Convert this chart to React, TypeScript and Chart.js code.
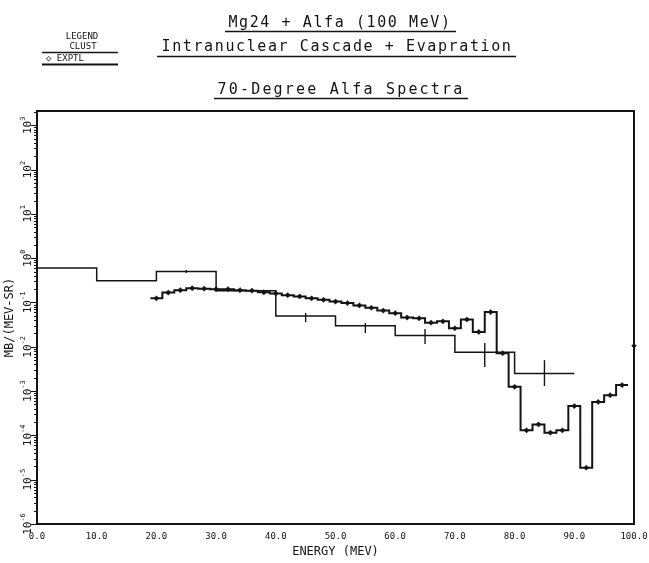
import React, { useEffect, useRef } from "react";
import { Chart, registerables } from "chart.js";

Chart.register(...registerables);

const FONT = "'DejaVu Sans Mono', 'Liberation Mono', monospace";
const INK = "#141414";

const TITLE_LINES = ["Mg24 + Alfa (100 MeV)", "Intranuclear Cascade + Evapration", "70-Degree Alfa Spectra"];
const LEGEND_TITLE = "LEGEND";
const SERIES_NAMES = ["CLUST", "EXPTL"];
const X_TITLE = "ENERGY (MEV)";
const Y_TITLE = "MB/(MEV-SR)";

const X_TICKS = [0, 10, 20, 30, 40, 50, 60, 70, 80, 90, 100];
const Y_EXPONENTS = [-6, -5, -4, -3, -2, -1, 0, 1, 2, 3];
const Y_EXP_LABELS = ["-6", "-5", "-4", "-3", "-2", "-1", "0", "1", "2", "3"];
const Y_MINOR_MULTS = [2, 3, 4, 5, 6, 7, 8, 9];
const X_MIN = 0;
const X_MAX = 100;
const Y_MIN = 1e-6;
const Y_MAX = 2100;

// CLUST: 10 MeV bins (left edges), values and error bars
const CLUST_EDGES = [0, 10, 20, 30, 40, 50, 60, 70, 80, 90];
const CLUST_VALUES = [0.6, 0.31, 0.5, 0.185, 0.0495, 0.03, 0.018, 0.0075, 0.0025];
const CLUST_ERR_X = [25, 45, 55, 65, 75, 85];
const CLUST_ERR_LOW = [0.46, 0.0363, 0.0205, 0.0116, 0.0035, 0.0013];
const CLUST_ERR_HIGH = [0.54, 0.058, 0.0344, 0.0252, 0.0122, 0.005];

// EXPTL: 2 MeV bins (centres) and values
const EXPTL_CENTERS = [20, 22, 24, 26, 28, 30, 32, 34, 36, 38, 40, 42, 44, 46, 48, 50, 52, 54, 56, 58, 60, 62, 64, 66, 68, 70, 72, 74, 76, 78, 80, 82, 84, 86, 88, 90, 92, 94, 96, 98];
const EXPTL_HALF_WIDTH = 1;
const EXPTL_VALUES = [
  0.124, 0.167, 0.19, 0.21, 0.205, 0.2, 0.2, 0.19, 0.185, 0.17,
  0.16, 0.146, 0.137, 0.124, 0.115, 0.105, 0.097, 0.086, 0.076, 0.0656,
  0.0575, 0.0457, 0.044, 0.035, 0.0375, 0.0262, 0.0413, 0.0216, 0.0609, 0.00715,
  0.00125, 0.00013, 0.000177, 0.000115, 0.00013, 0.00046, 0.0000186, 0.00057, 0.00081, 0.00137,
];

// single mark on the right frame
const EDGE_MARK_X = [100];
const EDGE_MARK_Y = [0.0105];

export default function App() {
  const ref = useRef<HTMLCanvasElement>(null);

  useEffect(() => {
    const canvas = ref.current;
    if (!canvas) return;

    const clustPoints = CLUST_EDGES.map((x, i) => ({ x, y: CLUST_VALUES[Math.min(i, CLUST_VALUES.length - 1)] }));
    const last = EXPTL_CENTERS.length - 1;
    const exptlPoints = EXPTL_CENTERS.map((c, i) => ({ x: c - EXPTL_HALF_WIDTH, y: EXPTL_VALUES[i] }));
    exptlPoints.push({ x: EXPTL_CENTERS[last] + EXPTL_HALF_WIDTH, y: EXPTL_VALUES[last] });
    const exptlMarkers = EXPTL_CENTERS.map((c, i) => ({ x: c, y: EXPTL_VALUES[i] }));
    const edgeMarks = EDGE_MARK_X.map((x, i) => ({ x, y: EDGE_MARK_Y[i] }));

    const decor = {
      id: "decor",
      beforeDraw(chart: any) {
        const ctx = chart.ctx;
        ctx.save();
        ctx.fillStyle = "#ffffff";
        ctx.fillRect(0, 0, chart.width, chart.height);
        ctx.restore();
      },
      afterDatasetsDraw(chart: any) {
        const ctx = chart.ctx;
        const xs = chart.scales.x;
        const ys = chart.scales.y;
        ctx.save();
        ctx.strokeStyle = INK;
        ctx.lineWidth = 1.4;
        CLUST_ERR_X.forEach((xv, i) => {
          const px = xs.getPixelForValue(xv);
          const y1 = ys.getPixelForValue(CLUST_ERR_LOW[i]);
          const y2 = ys.getPixelForValue(CLUST_ERR_HIGH[i]);
          ctx.beginPath();
          ctx.moveTo(px, y1);
          ctx.lineTo(px, y2);
          ctx.stroke();
        });
        ctx.restore();
      },
      afterDraw(chart: any) {
        const ctx = chart.ctx;
        const a = chart.chartArea;
        const ys = chart.scales.y;
        ctx.save();
        // frame
        ctx.strokeStyle = INK;
        ctx.lineWidth = 2;
        ctx.strokeRect(a.left, a.top, a.right - a.left, a.bottom - a.top);

        // y ticks (major and minor, outward)
        ctx.lineWidth = 1;
        ys.ticks.forEach((t: any) => {
          const py = Math.round(ys.getPixelForValue(t.value)) + 0.5;
          const len = t.major ? 6 : 3;
          ctx.beginPath();
          ctx.moveTo(a.left - len, py);
          ctx.lineTo(a.left, py);
          ctx.stroke();
        });

        // y tick labels, rotated
        ctx.fillStyle = INK;
        Y_EXPONENTS.forEach((e, i) => {
          const py = ys.getPixelForValue(Math.pow(10, e));
          ctx.save();
          ctx.translate(31, py);
          ctx.rotate(-Math.PI / 2);
          ctx.textBaseline = "alphabetic";
          ctx.textAlign = "left";
          ctx.font = `11px ${FONT}`;
          const w1 = ctx.measureText("10").width;
          ctx.font = `7px ${FONT}`;
          const w2 = ctx.measureText(Y_EXP_LABELS[i]).width;
          const start = -(w1 + w2) / 2;
          ctx.font = `11px ${FONT}`;
          ctx.fillText("10", start, 0);
          ctx.font = `7px ${FONT}`;
          ctx.fillText(Y_EXP_LABELS[i], start + w1, -6);
          ctx.restore();
        });

        // titles
        const titleSpec = [
          { cx: 340, base: 27, uy: 31.5, x0: 225, x1: 456, sp: 1.6 },
          { cx: 337, base: 51, uy: 56.5, x0: 157, x1: 516, sp: 1.6 },
          { cx: 341, base: 94, uy: 98.5, x0: 214, x1: 468, sp: 2.2 },
        ];
        ctx.textAlign = "center";
        ctx.textBaseline = "alphabetic";
        ctx.font = `15px ${FONT}`;
        TITLE_LINES.forEach((t, i) => {
          const s = titleSpec[i];
          (ctx as any).letterSpacing = `${s.sp}px`;
          ctx.fillText(t, s.cx, s.base);
          ctx.lineWidth = 1.3;
          ctx.beginPath();
          ctx.moveTo(s.x0, s.uy);
          ctx.lineTo(s.x1, s.uy);
          ctx.stroke();
        });
        (ctx as any).letterSpacing = "0px";

        // legend block
        ctx.font = `9px ${FONT}`;
        ctx.textAlign = "center";
        ctx.fillText(LEGEND_TITLE, 82, 39);
        ctx.fillText(SERIES_NAMES[0], 83, 49);
        ctx.lineWidth = 1.5;
        ctx.beginPath();
        ctx.moveTo(42, 52.5);
        ctx.lineTo(118, 52.5);
        ctx.stroke();
        ctx.textAlign = "left";
        ctx.fillText("\u25C7 " + SERIES_NAMES[1], 46, 61);
        ctx.lineWidth = 2;
        ctx.beginPath();
        ctx.moveTo(42, 64.5);
        ctx.lineTo(118, 64.5);
        ctx.stroke();
        ctx.restore();
      },
    };

    const chart = new Chart(canvas, {
      type: "line",
      data: {
        datasets: [
          {
            label: SERIES_NAMES[0],
            data: clustPoints,
            stepped: "before",
            borderColor: INK,
            borderWidth: 1.5,
            pointRadius: 0,
            fill: false,
          },
          {
            label: SERIES_NAMES[1],
            data: exptlPoints,
            stepped: "before",
            borderColor: INK,
            borderWidth: 2,
            pointRadius: 0,
            fill: false,
          },
          {
            label: SERIES_NAMES[1] + " points",
            data: exptlMarkers,
            showLine: false,
            pointStyle: "rectRot",
            pointRadius: 2.6,
            backgroundColor: INK,
            borderColor: INK,
            borderWidth: 0.5,
          },
          {
            label: "mark",
            data: edgeMarks,
            showLine: false,
            pointStyle: "rectRot",
            pointRadius: 2.2,
            backgroundColor: INK,
            borderColor: INK,
            clip: false,
          } as any,
        ],
      },
      options: {
        animation: false,
        responsive: true,
        maintainAspectRatio: false,
        layout: { padding: { left: 0, top: 111, right: 15, bottom: 0 } },
        plugins: {
          legend: { display: false },
          tooltip: { enabled: false },
          title: { display: false },
        },
        scales: {
          x: {
            type: "linear",
            min: X_MIN,
            max: X_MAX,
            afterBuildTicks: (s: any) => {
              s.ticks = X_TICKS.map((v) => ({ value: v }));
            },
            afterFit: (s: any) => {
              s.height = 39;
              s.paddingLeft = 0;
              s.paddingRight = 0;
            },
            ticks: {
              autoSkip: false,
              maxRotation: 0,
              minRotation: 0,
              padding: 7,
              color: INK,
              font: { family: FONT, size: 9 },
              callback: (v: any) => Number(v).toFixed(1),
            },
            grid: { display: false, drawTicks: false },
            border: { display: false },
            title: {
              display: true,
              text: X_TITLE,
              color: INK,
              font: { family: FONT, size: 12 },
              padding: { top: 0, bottom: 4 },
            },
          },
          y: {
            type: "logarithmic",
            min: Y_MIN,
            max: Y_MAX,
            afterBuildTicks: (s: any) => {
              const t: any[] = [];
              Y_EXPONENTS.forEach((e) => {
                const b = Math.pow(10, e);
                t.push({ value: b, major: true });
                Y_MINOR_MULTS.forEach((m) => {
                  const v = m * b;
                  if (v <= Y_MAX) t.push({ value: v, major: false });
                });
              });
              s.ticks = t;
            },
            afterFit: (s: any) => {
              s.width = 37;
              s.paddingTop = 0;
              s.paddingBottom = 0;
            },
            ticks: { display: false, autoSkip: false },
            grid: { display: false, drawTicks: false },
            border: { display: false },
            title: {
              display: true,
              text: Y_TITLE,
              color: INK,
              font: { family: FONT, size: 12 },
              padding: { top: 3, bottom: 0 },
            },
          },
        },
      },
      plugins: [decor],
    });

    return () => chart.destroy();
  }, []);

  return (
    <div style={{ position: "fixed", left: 0, top: 0, width: 649, height: 563, background: "#fff" }}>
      <canvas ref={ref} />
    </div>
  );
}
